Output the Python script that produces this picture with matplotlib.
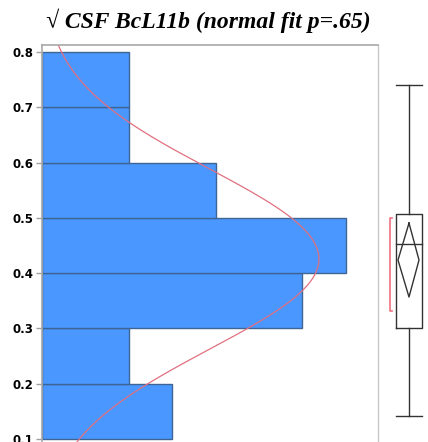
import numpy as np
import matplotlib.pyplot as plt

# histogram of sqrt(CSF BcL11b)
bin_edges = [0.1, 0.2, 0.3, 0.4, 0.5, 0.6, 0.7, 0.8]
counts = [3, 2, 6, 7, 4, 2, 2]
n_total = sum(counts)

# normal fit
fit_mean = 0.4255
fit_sd = 0.1626

# outlier box plot (values on the y scale)
whisker_lo, q1, median, q3, whisker_hi = 0.1416, 0.3007, 0.4526, 0.507, 0.740
mean_lo, mean_val, mean_hi = 0.3568, 0.4237, 0.4906
shortest_half = [0.3315, 0.4997]

yticks = [0.1, 0.2, 0.3, 0.4, 0.5, 0.6, 0.7, 0.8]

W, H = 428, 442
fig = plt.figure(figsize=(W / 100, H / 100), dpi=100)
ylim = (0.0946, 0.8127)

ax = fig.add_axes([42 / W, 0, (378 - 42) / W, (H - 45) / H])
widths = np.diff(bin_edges)
ax.barh(bin_edges[:-1], counts, height=widths, align='edge',
        color='#4a97ff', edgecolor='#3f6595', linewidth=1.0)

yy = np.linspace(ylim[0], ylim[1], 300)
dens = n_total * 0.1 / (fit_sd * np.sqrt(2 * np.pi)) * np.exp(-0.5 * ((yy - fit_mean) / fit_sd) ** 2)
ax.plot(dens, yy, color='#e07080', linewidth=0.9)

ax.set_ylim(*ylim)
ax.set_xlim(0, 7.74)
ax.set_xticks([])
ax.set_yticks(yticks)
ax.set_yticklabels([f'{v:.1f}' for v in yticks], fontweight='bold',
                   fontsize=8.5, family='DejaVu Sans')
ax.tick_params(axis='y', length=4, width=1, color='#a0a0a0', pad=2)
for s in ['left', 'top']:
    ax.spines[s].set_color('#a8a8a8')
    ax.spines[s].set_linewidth(1.2)
ax.spines['right'].set_color('#c8c8c8')
ax.spines['right'].set_linewidth(1.0)
ax.spines['bottom'].set_visible(False)

# box plot panel
bx = fig.add_axes([378 / W, 0, (W - 378) / W, (H - 45) / H])
bx.set_ylim(*ylim)
bx.set_xlim(0, 50)
bx.axis('off')
lc = '#333333'
x0, x1, xc = 17.7, 44.3, 31
bx.plot([x0, x1, x1, x0, x0], [q1, q1, q3, q3, q1], color=lc, lw=1)
bx.plot([x0, x1], [median, median], color=lc, lw=1)
bx.plot([xc, xc], [q3, whisker_hi], color=lc, lw=1)
bx.plot([xc, xc], [whisker_lo, q1], color=lc, lw=1)
bx.plot([x0, x1], [whisker_hi, whisker_hi], color=lc, lw=1)
bx.plot([x0, x1], [whisker_lo, whisker_lo], color=lc, lw=1)
bx.plot([xc, 41, xc, 20, xc], [mean_hi, mean_val, mean_lo, mean_val, mean_hi],
        color=lc, lw=1)
sx = 12
bx.plot([sx + 2, sx, sx, sx + 2], [shortest_half[1], shortest_half[1],
                                  shortest_half[0], shortest_half[0]],
        color='#f07080', lw=1.2)

fig.text(0.487, 0.952, '\u221a CSF BcL11b (normal fit p=.65)', ha='center',
         va='center', fontsize=17, fontweight='bold', style='italic',
         family=['Liberation Serif', 'DejaVu Serif'])

fig.savefig('out.png', dpi=100)
